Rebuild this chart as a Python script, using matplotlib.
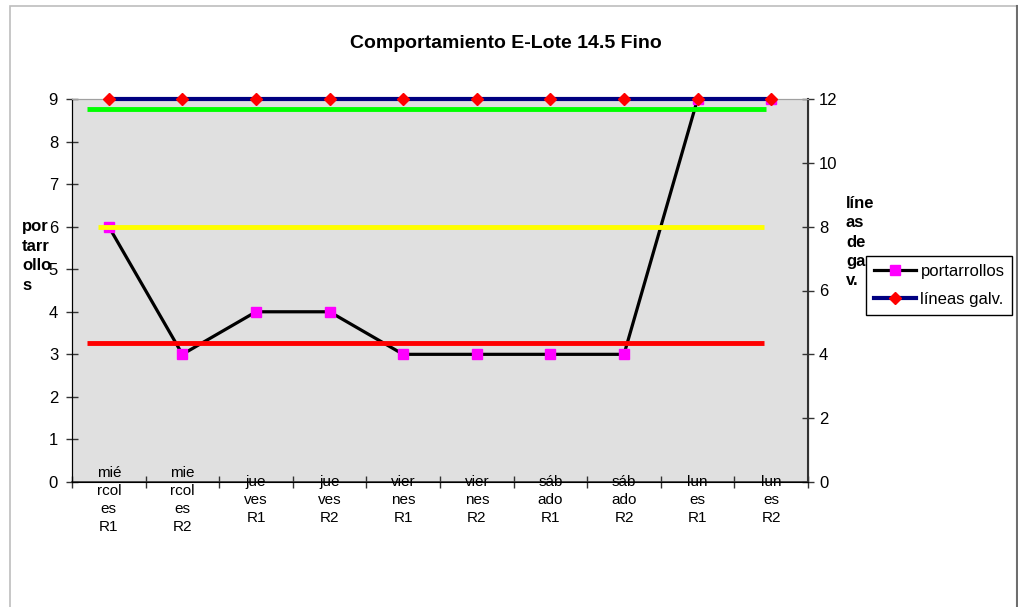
import matplotlib
matplotlib.use("Agg")
import matplotlib.pyplot as plt
from matplotlib.lines import Line2D
from matplotlib.patches import Rectangle
import matplotlib.transforms as mtransforms

plt.rcParams['font.family'] = ['Liberation Sans', 'DejaVu Sans']

# Data
categories = ["mié\nrcol\nes\nR1", "mie\nrcol\nes\nR2", "jue\nves\nR1", "jue\nves\nR2",
              "vier\nnes\nR1", "vier\nnes\nR2", "sáb\nado\nR1", "sáb\nado\nR2",
              "lun\nes\nR1", "lun\nes\nR2"]
portarrollos = [6, 3, 4, 4, 3, 3, 3, 3, 9, 9]
lineas_galv = [12, 12, 12, 12, 12, 12, 12, 12, 12, 12]
left_ticks = list(range(0, 10))
right_ticks = list(range(0, 13, 2))

# Reference levels (left-axis units): (value, x-start, x-end, color)
ref_green = (8.77, -0.3, 8.93, "#00FF00")
ref_yellow = (6.0, -0.15, 8.9, "#FFFF00")
ref_red = (3.27, -0.3, 8.9, "#FF0000")

W, H = 1018, 607
fig = plt.figure(figsize=(W / 100, H / 100), dpi=100)
fig.patch.set_facecolor("white")

# outer chart frame
fig.add_artist(Rectangle((10 / W, -0.01), 1007 / W, 1 - 6 / H + 0.01,
                         transform=fig.transFigure, fill=False,
                         edgecolor="#BEBEBE", linewidth=1.2))
fig.add_artist(Line2D([1016.5 / W, 1016.5 / W], [0, 1 - 6 / H],
                      transform=fig.transFigure, color="#6E6E6E", linewidth=1.5))

left, right, bottom, top = 72, 808, 482, 99
ax = fig.add_axes([left / W, 1 - bottom / H, (right - left) / W, (bottom - top) / H])
ax.set_facecolor("#E0E0E0")

x = list(range(len(categories)))
ax.set_xlim(-0.5, len(categories) - 0.5)
ax.set_ylim(0, 9)
ax.set_yticks(left_ticks)
ax.set_yticklabels([str(v) for v in left_ticks], fontsize=12)
ax.set_xticks([i - 0.5 for i in range(len(categories) + 1)])
ax.set_xticklabels([])
ax.tick_params(axis='both', direction='inout', length=8, width=1, color="#333333")
ax.tick_params(axis='y', pad=6)

ax.spines["top"].set_color("#A0A0A0")
ax.spines["left"].set_color("#000000")
ax.spines["bottom"].set_color("#333333")
ax.spines["right"].set_color("#333333")
ax.spines["bottom"].set_linewidth(1.2)

ax2 = ax.twinx()
ax2.set_ylim(0, 12)
ax2.set_yticks(right_ticks)
ax2.set_yticklabels([str(v) for v in right_ticks], fontsize=12)
ax2.tick_params(axis='y', direction='inout', length=8, width=1, color="#333333", pad=4)
ax2.spines["right"].set_color("#333333")
ax2.spines["right"].set_linewidth(1.5)
ax2.spines["top"].set_color("#A0A0A0")

ax.plot(x, portarrollos, color="black", linewidth=2.3, marker="s",
        markersize=6.5, markerfacecolor="#FF00FF", markeredgecolor="#FF00FF", zorder=3)
ax2.plot(x, lineas_galv, color="#000080", linewidth=3, marker="D",
         markersize=6.5, markerfacecolor="#FF0000", markeredgecolor="#FF0000",
         zorder=3, clip_on=False)

for val, x0, x1, col in (ref_green, ref_yellow, ref_red):
    ax2.plot([x0, x1], [val * 12 / 9] * 2, color=col, linewidth=3.5,
             solid_capstyle="butt", zorder=4)

# category labels centred just below the axis line
trans = mtransforms.blended_transform_factory(ax.transData, fig.transFigure)
for i, lab in enumerate(categories):
    ax.text(i, 1 - 500 / H, lab, transform=trans, ha="center", va="center",
            fontsize=11, linespacing=1.35, color="#000000", clip_on=False)

fig.text(506 / W, 1 - 44 / H, "Comportamiento E-Lote 14.5 Fino", ha="center",
         va="center", fontsize=14, fontweight="bold")
fig.text(22 / W, 1 - 256 / H, "por\ntarr\nollo\ns", ha="left", va="center",
         fontsize=12, fontweight="bold", linespacing=1.37)
fig.text(846 / W, 1 - 242 / H, "líne\nas\nde\nga\nv.", ha="left", va="center",
         fontsize=12, fontweight="bold", linespacing=1.35)

handles = [
    Line2D([], [], color="black", linewidth=2.3, marker="s", markersize=6.5,
           markerfacecolor="#FF00FF", markeredgecolor="#FF00FF"),
    Line2D([], [], color="#000080", linewidth=3, marker="D", markersize=6.5,
           markerfacecolor="#FF0000", markeredgecolor="#FF0000"),
]
leg = fig.legend(handles, ["portarrollos", "líneas galv."],
                 loc="upper left", bbox_to_anchor=(866 / W, 1 - 256 / H),
                 fontsize=12, frameon=True, fancybox=False, framealpha=1,
                 edgecolor="black", handlelength=2.5, handletextpad=0.3,
                 borderpad=0.47, labelspacing=0.78, borderaxespad=0)
leg.get_frame().set_linewidth(1.0)
leg.set_zorder(10)

fig.savefig("out.png", dpi=100, facecolor="white")
